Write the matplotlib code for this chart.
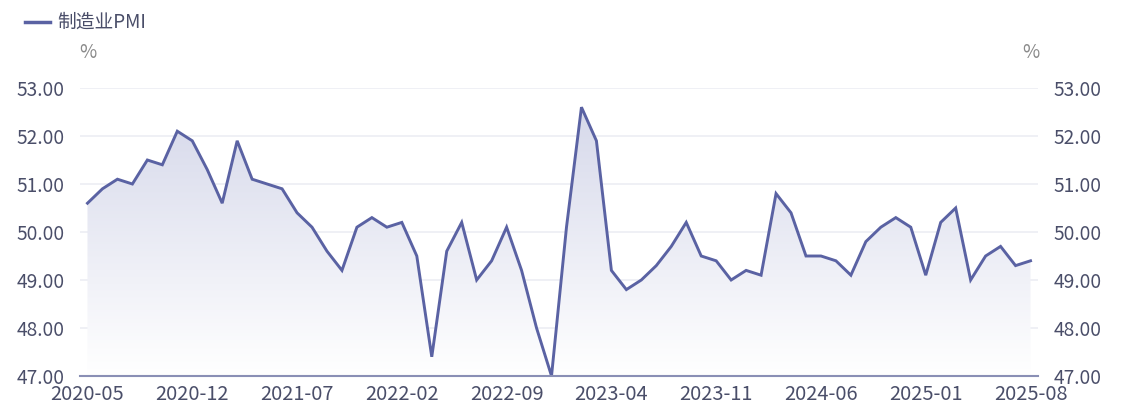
import matplotlib
matplotlib.use("Agg")
import matplotlib.pyplot as plt
import numpy as np
from matplotlib.patches import Polygon
from matplotlib.colors import LinearSegmentedColormap

plt.rcParams['font.family'] = ['Noto Sans CJK SC', 'DejaVu Sans']

months = []
y, m = 2020, 5
for _ in range(64):
    months.append(f"{y}-{m:02d}")
    m += 1
    if m > 12:
        m = 1
        y += 1

pmi = [50.6, 50.9, 51.1, 51.0, 51.5, 51.4, 52.1, 51.9,
       51.3, 50.6, 51.9, 51.1, 51.0, 50.9, 50.4, 50.1, 49.6, 49.2, 50.1, 50.3,
       50.1, 50.2, 49.5, 47.4, 49.6, 50.2, 49.0, 49.4, 50.1, 49.2, 48.0, 47.0,
       50.1, 52.6, 51.9, 49.2, 48.8, 49.0, 49.3, 49.7, 50.2, 49.5, 49.4, 49.0,
       49.2, 49.1, 50.8, 50.4, 49.5, 49.5, 49.4, 49.1, 49.8, 50.1, 50.3, 50.1,
       49.1, 50.2, 50.5, 49.0, 49.5, 49.7, 49.3, 49.4]

yticks = [47, 48, 49, 50, 51, 52, 53]
series_name = "制造业PMI"

line_color = "#5a62a3"
text_color = "#4a4e69"
grid_color = "#eceef4"

W, H = 1121, 418
fig = plt.figure(figsize=(W / 100, H / 100), dpi=100)
ax = fig.add_axes([80 / W, 42 / H, (1038 - 80) / W, (376 - 88) / H])

x = np.arange(len(pmi))
ax.set_xlim(-0.5, len(pmi) - 0.5)
ax.set_ylim(47, 53)

# gradient fill
verts = [(x[0], 47)] + list(zip(x, pmi)) + [(x[-1], 47)]
poly = Polygon(verts, closed=True, facecolor="none", edgecolor="none")
ax.add_patch(poly)
grad = np.linspace(1, 0, 256).reshape(-1, 1)
cmap = LinearSegmentedColormap.from_list("g", [(1, 1, 1, 1), (0.84, 0.85, 0.92, 1)])
im = ax.imshow(grad, extent=[x[0], x[-1], 47, 52.6], aspect="auto", cmap=cmap,
               origin="upper", zorder=1, vmin=0, vmax=1)
im.set_clip_path(poly)

ax.plot(x, pmi, color=line_color, lw=2.1, zorder=3, solid_joinstyle="miter")

for t in yticks[1:]:
    ax.axhline(t, color=grid_color, lw=1.2, zorder=0)

for s in ["top", "right", "left"]:
    ax.spines[s].set_visible(False)
ax.spines["bottom"].set_color("#8a8fb5")
ax.spines["bottom"].set_linewidth(1.5)
ax.spines["bottom"].set_zorder(4)

ax.set_yticks(yticks)
ax.set_yticklabels([f"{v:.2f}" for v in yticks])
ax.tick_params(axis="y", length=0, pad=11, labelsize=13.8, labelcolor=text_color)

ax2 = ax.twinx()
ax2.set_ylim(47, 53)
ax2.set_yticks(yticks)
ax2.set_yticklabels([f"{v:.2f}" for v in yticks])
ax2.tick_params(axis="y", length=0, pad=11.5, labelsize=13.8, labelcolor=text_color)
for s in ["top", "right", "left", "bottom"]:
    ax2.spines[s].set_visible(False)

tick_idx = list(range(0, len(pmi), 7))
ax.set_xticks(tick_idx)
ax.set_xticklabels([months[i] for i in tick_idx])
ax.tick_params(axis="x", length=0, pad=6, labelsize=14.4, labelcolor=text_color)

fig.text(88 / W, 1 - 52 / H, "%", ha="center", va="center", fontsize=13.5, color="#8a8a8a")
fig.text(1031 / W, 1 - 52 / H, "%", ha="center", va="center", fontsize=13.5, color="#8a8a8a")

# legend
fig.add_artist(plt.Line2D([25 / W, 50 / W], [1 - 22 / H, 1 - 22 / H], color=line_color, lw=2.5))
fig.text(57 / W, 1 - 22 / H, series_name, ha="left", va="center", fontsize=13.5, color=text_color)

fig.savefig("out.png", dpi=100)
